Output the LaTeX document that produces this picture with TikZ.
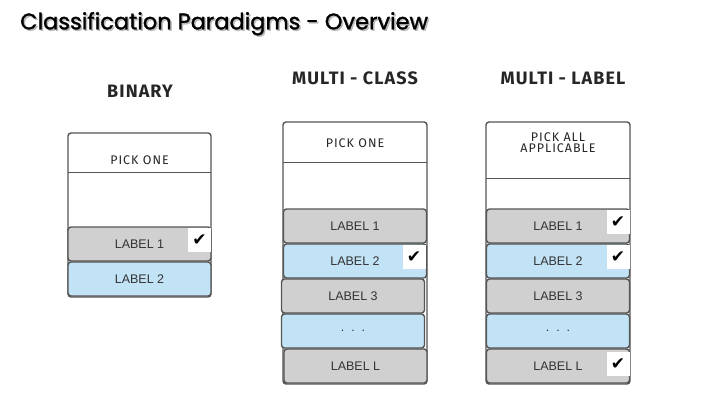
\documentclass[tikz,border=0pt]{standalone}
\usepackage{fontspec}
\setmainfont{Liberation Sans}
\newfontfamily\titlefont[FakeBold=1.3]{Poppins}
\newfontfamily\headfont[LetterSpace=6]{Fira Sans}
\newfontfamily\pickfont[LetterSpace=8]{Fira Sans}
\newfontfamily\symfont{DejaVu Sans}
\definecolor{rowgrey}{HTML}{D0D0D0}
\definecolor{rowblue}{HTML}{C2E3F5}
\definecolor{edge}{HTML}{555555}
\definecolor{txt}{HTML}{333333}
\newcommand{\shadowtext}[1]{\rlap{\hspace{1.5pt}\raisebox{-1.5pt}{\color{black!28}#1}}#1}
\begin{document}
\begin{tikzpicture}[x=1pt,y=-1pt,
  outerbox/.style={draw=edge,line width=1.4pt,rounded corners=3pt,fill=white},
  rowbox/.style={draw=edge,line width=1.4pt,rounded corners=3pt,minimum width=143pt,minimum height=34pt,inner sep=0pt,font=\fontsize{12.5}{14}\selectfont,text=txt},
  greyrow/.style={rowbox,fill=rowgrey},
  bluerow/.style={rowbox,fill=rowblue},
  chkbox/.style={fill=white,minimum width=23pt,minimum height=24pt,inner sep=0pt,font=\symfont\fontsize{17}{18}\selectfont},
  headtext/.style={font=\headfont\bfseries\fontsize{18}{20}\selectfont,text=black!85},
  picktext/.style={font=\pickfont\fontsize{12.5}{13}\selectfont,text=black!85,align=center},
  sepline/.style={draw=edge,line width=0.9pt}]
\useasboundingbox (0,0) rectangle (720,405);
% title
\node[font=\titlefont\fontsize{22.5}{24}\selectfont,text=black,anchor=west,inner sep=0pt] (title) at (20,24.5) {\shadowtext{Classification Paradigms - Overview}};
% headings
\node[headtext] (hb) at (140,91) {BINARY};
\node[headtext] (hm) at (355,78) {MULTI - CLASS};
\node[headtext] (hl) at (563,78) {MULTI - LABEL};
% ---------- binary
\draw[outerbox] (68,133) rectangle (211,297);
\node[picktext] (pb) at (139.5,160) {PICK ONE};
\coordinate (bsl) at (68,172); \coordinate (bsr) at (211,172);
\draw[sepline] (bsl) -- (bsr);
\node[greyrow] (b1) at (139.5,244) {LABEL 1};
\node[bluerow] (b2) at (139.5,279) {LABEL 2};
\node[chkbox] (bc1) at (199.5,240) {✔};
% ---------- multi-class
\draw[outerbox] (283,122) rectangle (427,384);
\node[picktext] (pm) at (355,143) {PICK ONE};
\coordinate (msl) at (283,162); \coordinate (msr) at (427,162);
\draw[sepline] (msl) -- (msr);
\node[greyrow] (m1) at (355,226) {LABEL 1};
\node[bluerow] (m2) at (355,261) {LABEL 2};
\node[greyrow] (m3) at (353,296) {LABEL 3};
\node[bluerow] (m4) at (353,331) {.\ \ .\ \ .};
\node[greyrow] (m5) at (355.5,366) {LABEL L};
\node[chkbox] (mc2) at (414,257) {✔};
% ---------- multi-label
\draw[outerbox] (486,122) rectangle (630,384);
\node[picktext] (pl) at (558,143) {PICK ALL\\[-2pt]APPLICABLE};
\coordinate (lsl) at (486,178); \coordinate (lsr) at (630,178);
\draw[sepline] (lsl) -- (lsr);
\node[greyrow] (l1) at (558,226) {LABEL 1};
\node[bluerow] (l2) at (558,261) {LABEL 2};
\node[greyrow] (l3) at (558,296) {LABEL 3};
\node[bluerow] (l4) at (558,331) {.\ \ .\ \ .};
\node[greyrow] (l5) at (558,366) {LABEL L};
\node[chkbox] (lc1) at (618,222) {✔};
\node[chkbox] (lc2) at (618,257) {✔};
\node[chkbox] (lc5) at (618,364) {✔};
\end{tikzpicture}
\end{document}
